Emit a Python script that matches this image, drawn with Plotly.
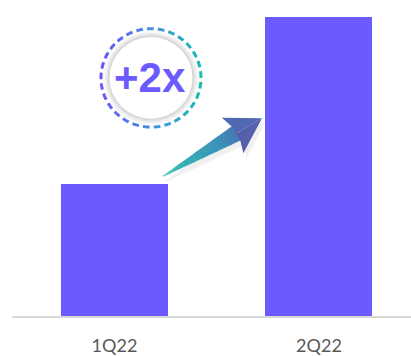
import numpy as np
import plotly.graph_objects as go

categories = ["1Q22", "2Q22"]
values = [1.0, 2.27]
badge_text = "+2x"

W, H = 411, 356
L, R, T, B = 12, 0, 10, 35
PW, PH = W - L - R, H - T - B

def xp(X):
    return (X - L) / PW

def yp(Y):
    return (H - B - Y) / PH

def hex2rgb(h):
    h = h.lstrip('#')
    return np.array([int(h[i:i+2], 16) for i in (0, 2, 4)], float)

def grad(stops, t):
    t = min(max(t, 0), 1)
    for (t0, c0), (t1, c1) in zip(stops[:-1], stops[1:]):
        if t0 <= t <= t1:
            f = (t - t0) / (t1 - t0) if t1 > t0 else 0
            c = hex2rgb(c0) * (1 - f) + hex2rgb(c1) * f
            return 'rgb(%d,%d,%d)' % tuple(np.round(c))
    return stops[-1][1]

def path_from(pts, close=True):
    s = "M " + " L ".join("%.5f,%.5f" % (xp(x), yp(y)) for x, y in pts)
    return s + (" Z" if close else "")

bar_color = "#6b5bff"

fig = go.Figure()
fig.add_trace(go.Bar(x=categories, y=values, marker=dict(color=bar_color, line=dict(width=0)),
                     width=0.523, hoverinfo="skip"))

shapes = []

# badge circle
cx, cy, r = 151, 79, 50
for rr, col in [(48, "rgba(0,0,0,0.025)"), (46, "rgba(0,0,0,0.035)"), (44.5, "rgba(0,0,0,0.05)"), (43, "rgba(0,0,0,0.05)"), (41.5, "white")]:
    shapes.append(dict(type="circle", xref="paper", yref="paper",
                       x0=xp(cx - rr), x1=xp(cx + rr), y0=yp(cy + rr), y1=yp(cy - rr),
                       fillcolor=col, line=dict(width=0), layer="above"))

ring_stops = [(0, "#6656f5"), (0.5, "#4690e6"), (1, "#15bcb0")]
n_dash = 29
frac = 0.62
for i in range(n_dash):
    a0 = 2 * np.pi * i / n_dash
    a1 = a0 + 2 * np.pi / n_dash * frac
    angs = np.linspace(a0, a1, 6)
    pts = [(cx + r * np.cos(a), cy - r * np.sin(a)) for a in angs]
    am = (a0 + a1) / 2
    t = (np.cos(am) + 1) / 2
    shapes.append(dict(type="path", xref="paper", yref="paper", path=path_from(pts, close=False),
                       line=dict(color=grad(ring_stops, t), width=3), layer="above"))

# arrow
tail = np.array([163.0, 179.0])
tip = np.array([262.0, 120.0])
dvec = tip - tail
Lr = np.linalg.norm(dvec)
d = dvec / Lr
n = np.array([-d[1], d[0]])

def uv(u, v):
    p = tail + d * u + n * v
    return (p[0], p[1])

arrow_stops = [(0, "#63d3cd"), (0.15, "#35b5b5"), (0.55, "#3a92b6"), (0.8, "#4a70b4"), (1, "#5a55a6")]
uj, hw_j, hw_t = 86.0, 8.5, 0.6
uw, hw_w = 81.0, 21.0

# shadow
off = np.array([3.0, 5.0])
sh_pts = [uv(0, -hw_t), uv(uj, -hw_j), uv(uw, -hw_w), uv(Lr, 0), uv(uw, hw_w), uv(uj, hw_j), uv(0, hw_t)]
sh_pts = [(x + off[0], y + off[1]) for x, y in sh_pts]
shapes.append(dict(type="path", xref="paper", yref="paper", path=path_from(sh_pts),
                   fillcolor="rgba(0,0,0,0.06)", line=dict(width=0), layer="above"))

nseg = 14
us = np.linspace(0, uj, nseg + 1)
for k in range(nseg):
    u0, u1 = us[k], us[k + 1]
    w0 = hw_t + (hw_j - hw_t) * u0 / uj
    w1 = hw_t + (hw_j - hw_t) * u1 / uj
    pts = [uv(u0, -w0), uv(u1 + 0.4, -w1), uv(u1 + 0.4, w1), uv(u0, w0)]
    col = grad(arrow_stops, (u0 + u1) / 2 / Lr)
    shapes.append(dict(type="path", xref="paper", yref="paper", path=path_from(pts),
                       fillcolor=col, line=dict(width=0), layer="above"))
head1 = [uv(uj - 1, -hw_j), uv(uw, -hw_w), uv(Lr, 0), uv(uj - 1, 0)]
head2 = [uv(uj - 1, 0), uv(Lr, 0), uv(uw, hw_w), uv(uj - 1, hw_j)]
shapes.append(dict(type="path", xref="paper", yref="paper", path=path_from(head1),
                   fillcolor=grad(arrow_stops, 0.86), line=dict(width=0), layer="above"))
shapes.append(dict(type="path", xref="paper", yref="paper", path=path_from(head2),
                   fillcolor=grad(arrow_stops, 0.92), line=dict(width=0), layer="above"))

fig.update_layout(
    width=W, height=H,
    margin=dict(l=L, r=R, t=T, b=B),
    paper_bgcolor="white", plot_bgcolor="white",
    showlegend=False,
    bargap=0,
    hovermode=False,
    shapes=shapes,
    annotations=[dict(text="<b>%s</b>" % badge_text, x=xp(cx - 1), y=yp(cy), xref="paper", yref="paper",
                      showarrow=False, xanchor="center", yanchor="middle",
                      font=dict(family="Liberation Sans, Arial", size=42, color=bar_color))],
    xaxis=dict(range=[-0.501, 1.45], showgrid=False, zeroline=False,
               showline=True, linecolor="#d9d9d9", linewidth=1.5,
               ticks="outside", ticklen=13, tickcolor="rgba(0,0,0,0)",
               tickfont=dict(family="Lato", size=18, color="#595959"), fixedrange=True),
    yaxis=dict(range=[0, 2.27 * PH / 304], visible=False, fixedrange=True),
)

fig.write_html("out.html", config={"displayModeBar": False, "staticPlot": True},
               post_script="document.body.style.margin='0';document.body.style.overflow='hidden';")
